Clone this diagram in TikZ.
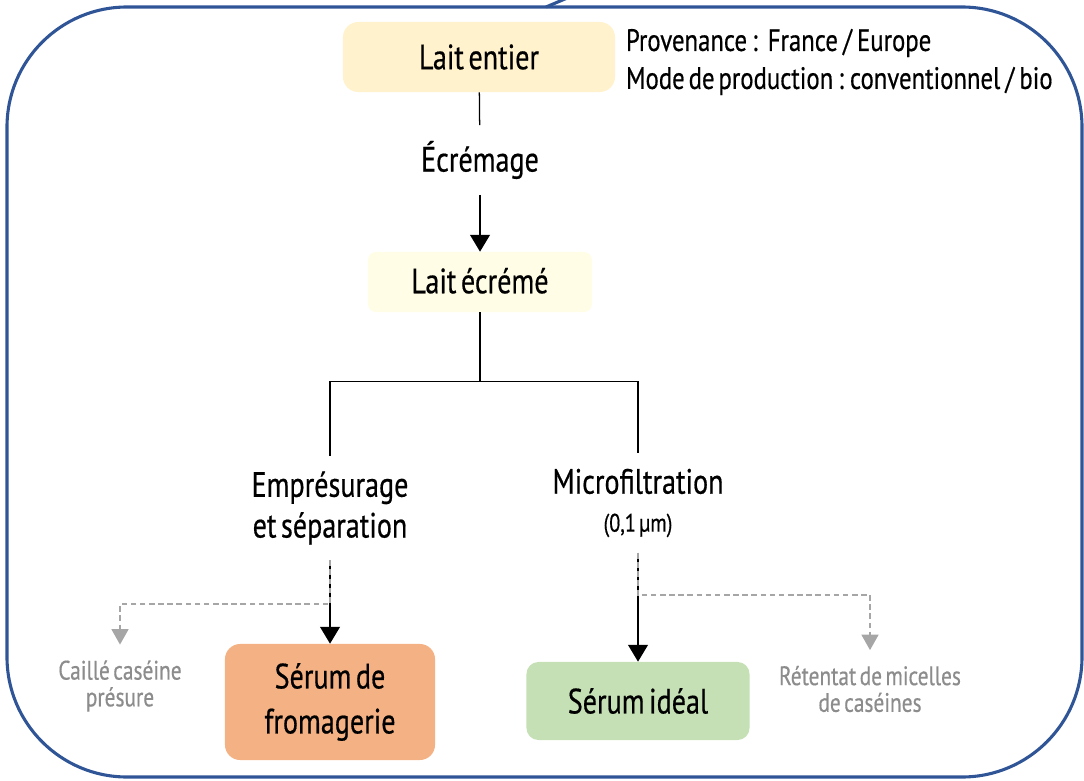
\documentclass[tikz,border=0pt]{standalone}
\usepackage{fontspec}
\setmainfont{PT Sans}[FakeStretch=0.8, FakeBold=0.5, WordSpace=0.6]
\usepackage{xcolor}
\usepackage{tikz}
\definecolor{frameblue}{HTML}{2F5597}
\definecolor{entiercolor}{HTML}{FFF2CC}
\definecolor{ecremecolor}{HTML}{FFFDE6}
\definecolor{fromcolor}{HTML}{F4B183}
\definecolor{idealcolor}{HTML}{C5E0B4}
\definecolor{losstext}{HTML}{8C8C8C}
\definecolor{lossline}{HTML}{A6A6A6}
\usetikzlibrary{arrows.meta, positioning}
\newcommand{\bigfont}{\fontsize{25}{29}\selectfont}
\newcommand{\midfont}{\fontsize{19}{19}\selectfont}
\tikzset{
	stepbox/.style = {rectangle, rounded corners=0.38cm, align=center, font=\bigfont},
	optext/.style = {align=center, inner xsep=2pt, inner ysep=11pt, font=\bigfont},
	losstxt/.style = {align=center, inner ysep=11pt, text=losstext, font=\midfont},
	flow/.style = {-{Triangle[width=14pt, length=12pt]}, line width=1.4pt},
	loss/.style = {-{Triangle[width=12pt, length=11pt]}, draw=lossline, line width=1.4pt, dash pattern=on 4pt off 2.5pt},
	link/.style = {line width=0.9pt}
}

\begin{document}
\begin{tikzpicture}[x=0.025cm, y=-0.025cm]
	\useasboundingbox (0,0) rectangle (1084,781);
	
	\draw[draw=frameblue, line width=2.2pt, rounded corners=3cm] (7,7) rectangle (1082,777);
	
	\draw[draw=frameblue, line width=2.2pt] (546,7) -- (572,-4);
	
	\node[stepbox, fill=entiercolor, minimum width=6.8cm, minimum height=1.75cm] (entier) at (479,57) {Lait entier};
	
	\node[anchor=west, align=left, font=\fontsize{22}{22}\selectfont] (origin) at (621,62) {Provenance\,: \ France\,/\,Europe\\[5pt]Mode de production\,: conventionnel\,/\,bio};
	
	\node[optext] (ecremage) at (480,160) {Écrémage};
	
	\node[stepbox, fill=ecremecolor, rounded corners=0.2cm, minimum width=5.6cm, minimum height=1.5cm, text depth=2pt] (ecreme) at (480,282) {Lait écrémé};
	
	\node[optext] (empr) at (330,508) {Emprésurage\\et séparation};
	
	\node[optext] (micro) at (638,503) {Microfiltration\\[-2pt]{\fontsize{18}{18}\selectfont(0,1 µm)}};
	
	\node[stepbox, fill=fromcolor, minimum width=5.25cm, minimum height=2.9cm] (serumf) at (330,702) {Sérum de\\[3pt]fromagerie};
	
	\node[stepbox, fill=idealcolor, rounded corners=0.3cm, minimum width=5.575cm, minimum height=1.95cm] (serumi) at (638,701) {Sérum idéal};
	
	\node[losstxt] (caille) at (120,686) {Caillé caséine\\présure};
	
	\node[losstxt] (retentat) at (870,689) {Rétentat de micelles\\de caséines};
	
	\draw[link] (entier) -- (ecremage);
	
	\draw[flow] (ecremage) -- (ecreme);
	
	\draw[link] (ecreme.south) -- ++(0,69) coordinate (fork);
	
	\draw[link] (fork) -| (empr.north);
	
	\draw[link] (fork) -| (micro.north);
	
	\draw[flow] (empr) -- (serumf);
	
	\draw[flow] (micro) -- (serumi);
	
	\path (empr.south) ++(0,44) coordinate (splitf);
	
	\path (micro.south) ++(0,42) coordinate (spliti);
	
	\draw[loss] (empr.south) -- (splitf) -| (caille.north);
	
	\draw[loss] (micro.south) -- (spliti) -| (retentat.north);
\end{tikzpicture}
\end{document}
